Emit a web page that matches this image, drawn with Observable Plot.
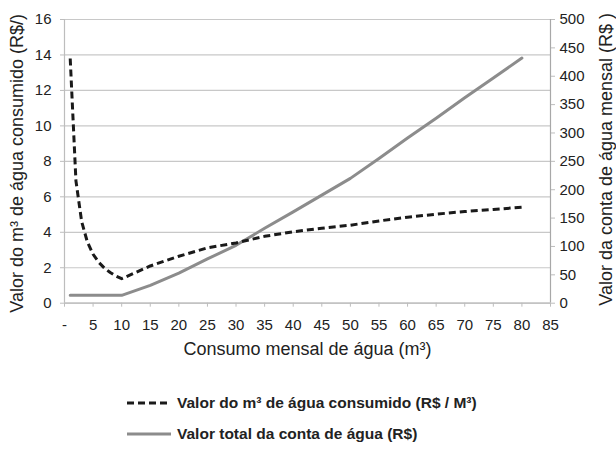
<!DOCTYPE html>
<html><head><meta charset="utf-8">
<script src="https://cdn.jsdelivr.net/npm/d3@7"></script>
<script src="https://cdn.jsdelivr.net/npm/@observablehq/plot@0.6"></script>
<style>
body{margin:0;background:#fff;font-family:"Liberation Sans",Arial,sans-serif;}
#wrap{position:relative;width:616px;height:449px;overflow:hidden;}
.leg{position:absolute;left:126px;height:20px;display:flex;align-items:center;font-weight:bold;font-size:15.5px;color:#222;white-space:nowrap;}
.leg svg{margin-right:5px;}
</style></head><body>
<div id="wrap"><div id="chart"></div></div>
<script>
const consumo = [1,2,3,4,5,6,7,8,9,10,15,20,25,30,35,40,45,50,55,60,65,70,75,80];
const valorM3 = [13.8,6.9,4.6,3.45,2.76,2.3,1.97,1.73,1.53,1.38,2.1,2.65,3.12,3.4,3.77,4.03,4.23,4.4,4.64,4.85,5.02,5.17,5.29,5.41];
const valorConta = [13.8,13.8,13.8,13.8,13.8,13.8,13.8,13.8,13.8,13.8,31.5,53,78,102,132,161,190.5,220,255,291,326,362,397,432];
const xTicks = [0,5,10,15,20,25,30,35,40,45,50,55,60,65,70,75,80,85];
const leftTicks = [0,2,4,6,8,10,12,14,16];
const rightTicks = [0,50,100,150,200,250,300,350,400,450,500];
const serieM3 = "Valor do m³ de água consumido (R$ / M³)";
const serieConta = "Valor total da conta de água (R$)";
const xTitle = "Consumo mensal de água (m³)";
const leftTitle = "Valor do m³ de água consumido (R$/)";
const rightTitle = "Valor da conta de água mensal (R$ )";

const k = 16 / 500; // right axis (0-500) onto left axis (0-16)
const data = consumo.map((c, i) => ({consumo: c, m3: valorM3[i], conta: valorConta[i]}));
const axisColor = "#bdbdbd";

const chart = Plot.plot({
  width: 616, height: 370,
  marginLeft: 64, marginRight: 66, marginTop: 19, marginBottom: 67.3,
  x: {domain: [0, 85]},
  y: {domain: [0, 16]},
  style: {fontFamily: "'Liberation Sans', Arial, sans-serif", fontSize: "15px", color: "#222", background: "white", overflow: "visible"},
  marks: [
    Plot.gridY(leftTicks, {stroke: "#c8c8c8", strokeOpacity: 1, strokeWidth: 1.2}),
    Plot.ruleX([0], {stroke: axisColor, strokeWidth: 1.2}),
    Plot.ruleX([85], {stroke: "#a8a8a8", strokeWidth: 1.2}),
    Plot.ruleY([0], {stroke: axisColor, strokeWidth: 1.2}),
    Plot.axisX(xTicks, {tickSize: 4, tickPadding: 12, stroke: axisColor, strokeOpacity: 1, label: null, fontSize: 15,
      tickFormat: d => d === 0 ? "-" : String(d)}),
    Plot.axisY(leftTicks, {anchor: "left", tickSize: 4, tickPadding: 9, stroke: axisColor, strokeOpacity: 1, label: null, fontSize: 15}),
    Plot.axisY(rightTicks.map(v => v * k), {anchor: "right", tickSize: 4, tickPadding: 5, stroke: axisColor, strokeOpacity: 1, label: null, fontSize: 15,
      tickFormat: d => String(Math.round(d / k))}),
    Plot.line(data, {x: "consumo", y: d => d.conta * k, stroke: "#8c8c8c", strokeWidth: 3}),
    Plot.line(data, {x: "consumo", y: "m3", stroke: "#1a1a1a", strokeWidth: 3, strokeDasharray: "7,4", strokeLinecap: "butt"}),
    Plot.text([xTitle], {text: d => d, frameAnchor: "bottom", dy: 52, fontSize: 18}),
    Plot.text([leftTitle], {text: d => d, frameAnchor: "left", textAnchor: "middle", rotate: -90, dx: -47, dy: 2, fontSize: 18}),
    Plot.text([rightTitle], {text: d => d, frameAnchor: "right", textAnchor: "middle", rotate: -90, dx: 56, dy: -2, fontSize: 18})
  ]
});
const wrap = document.getElementById("wrap");
document.getElementById("chart").append(chart);

function legendRow(label, top, dash, color) {
  const div = document.createElement("div");
  div.className = "leg";
  div.style.top = top + "px";
  div.innerHTML = `<svg width="46" height="6"><line x1="1" y1="3" x2="45" y2="3" stroke="${color}" stroke-width="3" ${dash ? 'stroke-dasharray="7,4"' : ''}/></svg><span></span>`;
  div.querySelector("span").textContent = label;
  wrap.append(div);
}
legendRow(serieM3, 393, true, "#1a1a1a");
legendRow(serieConta, 424, false, "#8c8c8c");
</script>
</body></html>
